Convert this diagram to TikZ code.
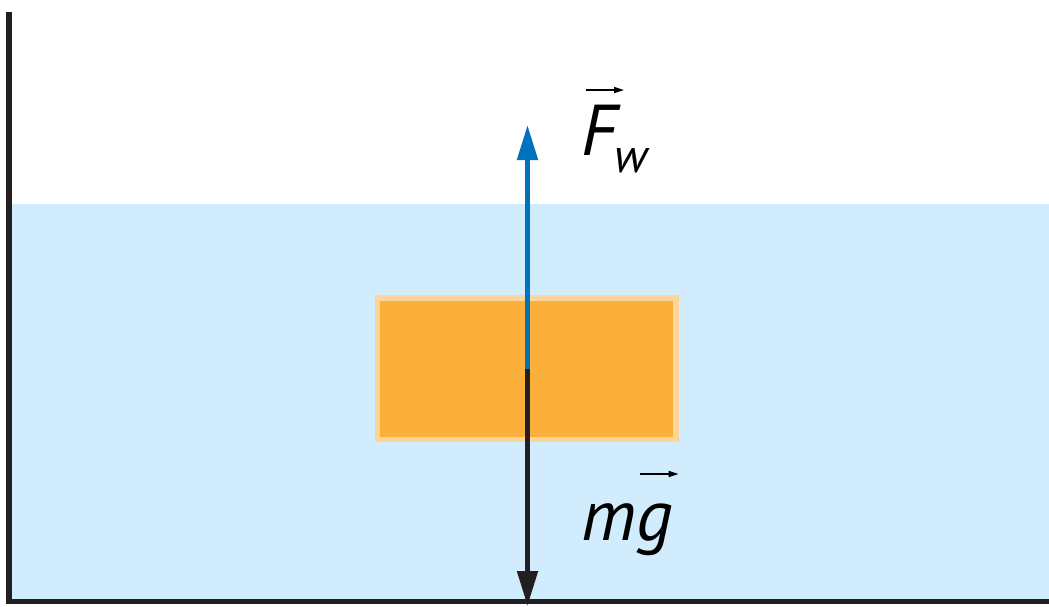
\documentclass[tikz,border=0pt]{standalone}
\usepackage{fontspec}
\setmainfont{PT Sans}
\usetikzlibrary{arrows.meta,calc}
\definecolor{water}{HTML}{D1ECFC}
\definecolor{ink}{HTML}{231F20}
\definecolor{forceblue}{HTML}{0071BC}
\definecolor{blockfill}{HTML}{FAAF3B}
\definecolor{blockedge}{HTML}{FDD49A}
\tikzset{
  wall/.style={draw=ink, line width=5.8pt, line join=miter},
  block/.style={rectangle, fill=blockfill, draw=blockedge, line width=5.5pt,
    minimum width=298.5pt, minimum height=141.5pt, inner sep=0pt},
  force/.style={line width=5pt, -{Triangle[length=35pt 0 0,width=20pt 0 0]}},
  lab/.style={font=\fontsize{72}{76}\selectfont\itshape, inner sep=0pt, text=black},
  sublab/.style={font=\fontsize{48}{52}\selectfont\itshape, inner sep=0pt, text=black},
  vecarrow/.style={line width=1.6pt, -{Triangle[length=10pt 0 0,width=6pt 0 0]}}
}
\begin{document}
\begin{tikzpicture}[x=1pt,y=-1pt]
\useasboundingbox (0,0) rectangle (1049,606);
\fill[water] (12,203.5) rectangle (1049,599);
\draw[wall] (9.3,12) -- (9.3,601.5) -- (1049,601.5);
\node[block] (b) at (526.5,368.8) {};
\coordinate (ftop) at (527.5,125);
\coordinate (gbot) at (527.5,606);
\draw[force, draw=forceblue, fill=forceblue] (b.center -| ftop) -- (ftop);
\draw[force, draw=ink, fill=ink] (b.center -| ftop) -- (gbot);
\node[lab, anchor=base west] (F) at (581,155) {F};
\node[sublab, anchor=base west] (w) at (614,172) {w};
\node[lab, anchor=base west] (mg) at (581,540) {mg};
\draw[vecarrow] ($(F.base west)+(5,-65)$) coordinate (fa) -- ++(38,0);
\draw[vecarrow] ($(mg.base east)+(-33,-66)$) coordinate (ga) -- ++(39,0);
\end{tikzpicture}
\end{document}
